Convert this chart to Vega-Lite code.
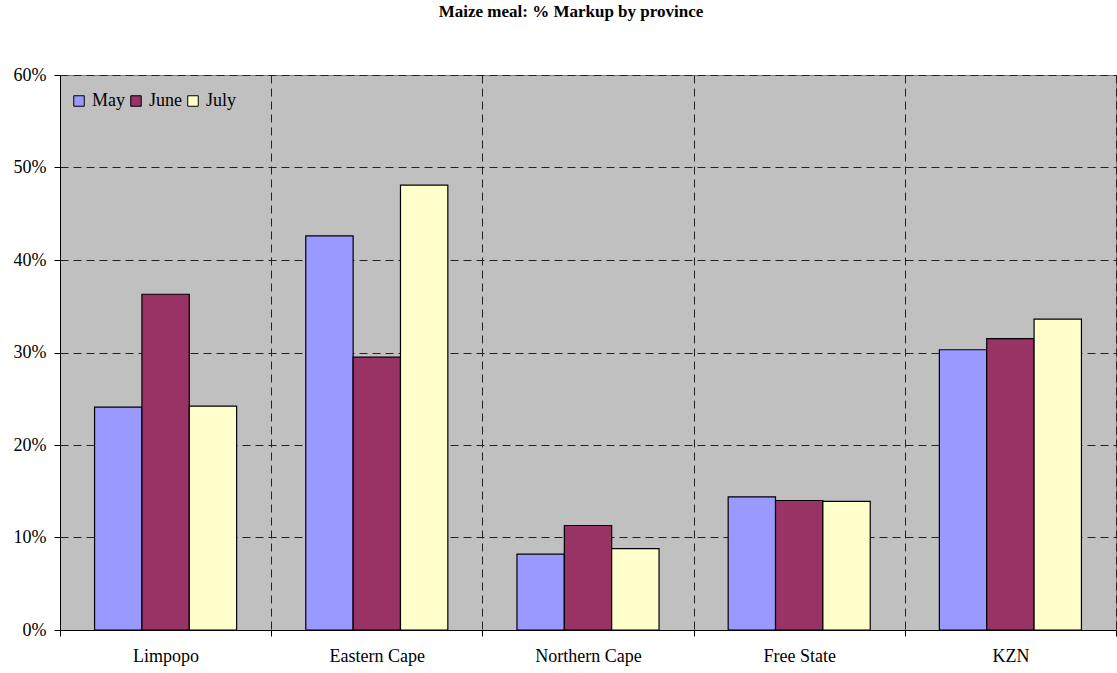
{
  "$schema": "https://vega.github.io/schema/vega-lite/v6.json",
  "width": 1056,
  "height": 555,
  "autosize": {"type": "none"},
  "padding": {"left": 60, "top": 75, "right": 1, "bottom": 43},
  "background": "white",
  "title": {
    "text": "Maize meal: % Markup by province",
    "font": "Liberation Serif",
    "fontSize": 17,
    "fontWeight": "bold",
    "color": "black",
    "anchor": "middle",
    "frame": "group",
    "dx": -17,
    "offset": 45
  },
  "config": {
    "view": {"fill": "#C0C0C0", "stroke": "#808080", "strokeWidth": 1},
    "font": "Liberation Serif"
  },
  "data": {
    "values": [
      {"province": "Limpopo", "month": "May", "value": 0.241},
      {"province": "Limpopo", "month": "June", "value": 0.363},
      {"province": "Limpopo", "month": "July", "value": 0.242},
      {"province": "Eastern Cape", "month": "May", "value": 0.426},
      {"province": "Eastern Cape", "month": "June", "value": 0.295},
      {"province": "Eastern Cape", "month": "July", "value": 0.481},
      {"province": "Northern Cape", "month": "May", "value": 0.082},
      {"province": "Northern Cape", "month": "June", "value": 0.113},
      {"province": "Northern Cape", "month": "July", "value": 0.088},
      {"province": "Free State", "month": "May", "value": 0.144},
      {"province": "Free State", "month": "June", "value": 0.140},
      {"province": "Free State", "month": "July", "value": 0.139},
      {"province": "KZN", "month": "May", "value": 0.303},
      {"province": "KZN", "month": "June", "value": 0.315},
      {"province": "KZN", "month": "July", "value": 0.336}
    ]
  },
  "mark": {"type": "bar", "stroke": "black", "strokeWidth": 1.2},
  "encoding": {
    "x": {
      "field": "province",
      "type": "nominal",
      "sort": ["Limpopo", "Eastern Cape", "Northern Cape", "Free State", "KZN"],
      "scale": {"paddingInner": 0, "paddingOuter": 0},
      "axis": {
        "title": null,
        "labelAngle": 0,
        "labelFont": "Liberation Serif",
        "labelFontSize": 18,
        "labelColor": "black",
        "labelPadding": 11,
        "tickBand": "extent",
        "ticks": true,
        "tickSize": 6,
        "tickColor": "black",
        "domainColor": "black",
        "grid": true,
        "gridColor": "#222222",
        "gridDash": [8, 5],
        "gridWidth": 1
      }
    },
    "xOffset": {
      "field": "month",
      "type": "nominal",
      "sort": ["May", "June", "July"],
      "scale": {"paddingInner": 0, "paddingOuter": 0.73}
    },
    "y": {
      "field": "value",
      "type": "quantitative",
      "scale": {"domain": [0, 0.6], "nice": false},
      "axis": {
        "title": null,
        "format": ".0%",
        "values": [0, 0.1, 0.2, 0.3, 0.4, 0.5, 0.6],
        "labelFont": "Liberation Serif",
        "labelFontSize": 18,
        "labelColor": "black",
        "labelPadding": 8,
        "tickSize": 6,
        "tickColor": "black",
        "domainColor": "black",
        "grid": true,
        "gridColor": "#222222",
        "gridDash": [8, 5],
        "gridWidth": 1
      }
    },
    "color": {
      "field": "month",
      "type": "nominal",
      "sort": ["May", "June", "July"],
      "scale": {"domain": ["May", "June", "July"], "range": ["#9999FF", "#993366", "#FFFFCC"]},
      "legend": {
        "title": null,
        "orient": "none",
        "legendX": 10,
        "legendY": 17,
        "direction": "horizontal",
        "symbolType": "square",
        "symbolSize": 110,
        "symbolStrokeColor": "black",
        "symbolStrokeWidth": 1,
        "symbolOpacity": 1,
        "labelFont": "Liberation Serif",
        "labelFontSize": 18,
        "labelColor": "black",
        "labelOffset": 4,
        "columnPadding": 2
      }
    }
  }
}
